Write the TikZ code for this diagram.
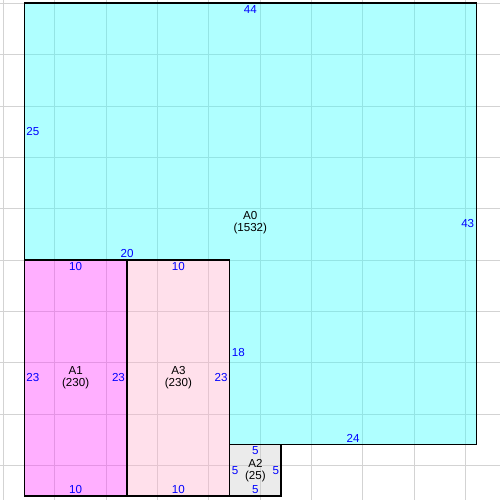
\documentclass[tikz,border=0pt]{standalone}
\usepackage{fontspec}
\setmainfont{Liberation Sans}

\definecolor{roomcyan}{RGB}{55,255,255}
\definecolor{roommagenta}{RGB}{255,55,255}
\definecolor{roompink}{RGB}{255,178,205}
\definecolor{roomgray}{RGB}{205,205,205}
\definecolor{gridgray}{RGB}{211,211,211}
\definecolor{sideblue}{RGB}{0,0,255}

\begin{document}
\begin{tikzpicture}[x=0.20546cm,y=-0.20546cm,
    every node/.style={font=\fontsize{6.6}{6.8}\selectfont,inner sep=1pt},
    side/.style={text=sideblue},
    gridline/.style={gridgray,line width=0.6pt},
    roomfill/.style={fill opacity=0.4},
    room/.style={draw=black,line width=0.8pt}]
\useasboundingbox (-2.365,-0.292) rectangle (46.305,48.38);

% grid underneath
\foreach \k in {0,...,9} {
    \draw[gridline] (-2.04+5*\k,-0.292) -- (-2.04+5*\k,48.38);
    \draw[gridline] (-2.365,0.03+5*\k) -- (46.305,0.03+5*\k);
}

% room fills, see-through
\fill[roomcyan,roomfill] (0,0) -- (44,0) -- (44,43) -- (20,43) -- (20,25) -- (0,25) -- cycle;
\fill[roommagenta,roomfill] (0,25) rectangle (10,48);
\fill[roompink,roomfill] (10,25) rectangle (20,48);
\fill[roomgray,roomfill] (20,43) rectangle (25,48);

% outlines
\draw[room] (0,0) -- (44,0) -- (44,43) -- (20,43) -- (20,25) -- (0,25) -- cycle;
\draw[room] (0,25) rectangle (10,48);
\draw[room] (10,25) rectangle (20,48);
\draw[room] (20,43) rectangle (25,48);

% names and areas
\begin{scope}[every node/.append style={align=center}]
    \node (A0) at (22,21.4) {A0\\(1532)};
    \node (A1) at (5,36.5) {A1\\(230)};
    \node (A3) at (15,36.5) {A3\\(230)};
    \node (A2) at (22.5,45.5) {A2\\(25)};
\end{scope}

% side lengths
\begin{scope}[every node/.append style={side}]
    \node[anchor=north] (A0top) at (22,0) {44};
    \node[anchor=west] (A0left) at (0,12.5) {25};
    \node[anchor=east] (A0right) at (44,21.5) {43};
    \node[anchor=south] (A0low) at (10,25) {20};
    \node[anchor=west] (A0step) at (20,34) {18};
    \node[anchor=south] (A0bot) at (32,43) {24};

    \node[anchor=north] (A1top) at (5,25) {10};
    \node[anchor=west] (A1left) at (0,36.5) {23};
    \node[anchor=east] (A1right) at (10,36.5) {23};
    \node[anchor=south] (A1bot) at (5,48) {10};

    \node[anchor=north] (A3top) at (15,25) {10};
    \node[anchor=east] (A3right) at (20,36.5) {23};
    \node[anchor=south] (A3bot) at (15,48) {10};

    \node[anchor=north] (A2top) at (22.5,43) {5};
    \node[anchor=west] (A2left) at (20,45.5) {5};
    \node[anchor=east] (A2right) at (25,45.5) {5};
    \node[anchor=south] (A2bot) at (22.5,48) {5};
\end{scope}
\end{tikzpicture}
\end{document}
